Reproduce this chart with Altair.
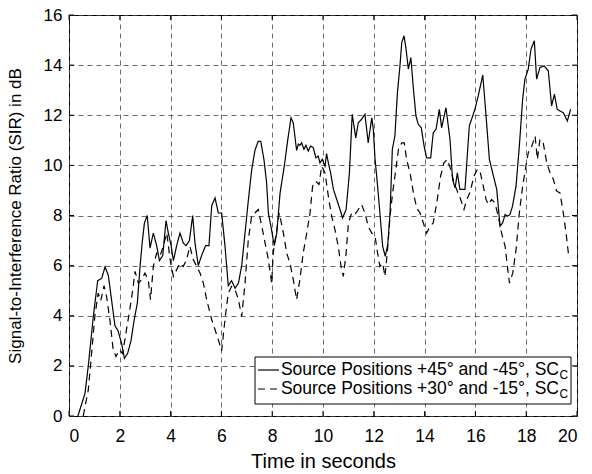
import altair as alt
import pandas as pd

# Time axis (seconds) and SIR (dB) for the two source configurations
t_45 = [0.35, 0.63, 0.76, 0.96, 1.13, 1.29, 1.42, 1.55, 1.68, 1.81, 1.93, 2.07, 2.18, 2.31,
        2.44, 2.56, 2.69, 2.80, 2.89, 2.97, 3.08, 3.19, 3.32, 3.45, 3.56, 3.69, 3.82, 3.91,
        4.02, 4.11, 4.24, 4.37, 4.50, 4.61, 4.74, 4.87, 4.96, 5.09, 5.22, 5.38, 5.51, 5.62,
        5.75, 5.88, 6.01, 6.14, 6.27, 6.40, 6.54, 6.67, 6.80, 6.93, 7.06, 7.19, 7.32, 7.45,
        7.55, 7.68, 7.78, 7.85, 7.98, 8.08, 8.18, 8.31, 8.48, 8.61, 8.74, 8.83, 8.96, 9.03,
        9.09, 9.16, 9.25, 9.33, 9.42, 9.51, 9.62, 9.72, 9.81, 9.88, 9.97, 10.08, 10.14, 10.21,
        10.30, 10.41, 10.54, 10.67, 10.77, 10.91, 11.04, 11.15, 11.29, 11.39, 11.52, 11.65,
        11.78, 11.92, 11.98, 12.05, 12.15, 12.24, 12.35, 12.45, 12.55, 12.64, 12.73, 12.83,
        12.93, 13.03, 13.10, 13.19, 13.27, 13.36, 13.46, 13.56, 13.66, 13.75, 13.87, 13.98,
        14.08, 14.24, 14.34, 14.45, 14.58, 14.67, 14.84, 15.00, 15.10, 15.20, 15.29, 15.39,
        15.50, 15.59, 15.76, 15.85, 15.98, 16.11, 16.29, 16.42, 16.55, 16.68, 16.84, 16.97,
        17.07, 17.17, 17.26, 17.36, 17.46, 17.60, 17.73, 17.86, 17.95, 18.08, 18.19, 18.32,
        18.41, 18.54, 18.70, 18.87, 19.00, 19.11, 19.22, 19.33, 19.46, 19.62, 19.75]
sir_45 = [0.0, 0.9, 2.0, 4.0, 5.4, 5.5, 5.95, 5.6, 4.6, 3.6, 3.4, 2.9, 2.3, 2.5,
          3.0, 3.8, 4.5, 6.0, 7.0, 7.7, 8.0, 6.7, 7.3, 6.8, 6.2, 6.4, 7.8, 7.3,
          6.8, 6.2, 6.8, 7.3, 6.9, 6.8, 7.0, 8.0, 6.9, 6.0, 6.4, 6.8, 6.8, 8.4,
          8.7, 8.1, 8.1, 6.8, 5.2, 5.4, 5.1, 5.3, 6.0, 7.3, 8.6, 9.8, 10.6, 10.96,
          10.96, 10.2, 9.3, 8.1, 7.4, 6.8, 7.3, 8.9, 10.0, 11.0, 11.9, 11.7, 10.6, 10.85,
          10.8, 10.9, 10.64, 10.8, 10.57, 10.77, 10.7, 10.3, 10.37, 10.1, 10.24, 9.97, 10.47, 10.1,
          9.7, 9.04, 8.64, 8.24, 7.9, 8.24, 9.7, 12.04, 11.1, 11.7, 11.84, 12.04,
          10.9, 11.9, 11.44, 10.24, 9.17, 8.1, 6.77, 6.37, 6.84, 8.1, 10.64, 11.17,
          12.9, 13.97, 14.9, 15.17, 14.64, 13.84, 14.3, 13.04, 11.97, 11.64, 11.5, 10.77,
          10.3, 10.3, 11.3, 11.44, 12.24, 11.5, 12.3, 11.04, 9.44, 9.1, 9.7, 9.04,
          9.04, 9.04, 11.57, 11.84, 12.24, 12.77, 13.6, 11.97, 10.24, 9.7, 9.04, 7.57,
          7.7, 8.04, 7.97, 8.04, 8.37, 9.17, 10.77, 12.64, 13.44, 13.84, 14.64, 14.97,
          13.44, 13.9, 13.97, 13.77, 12.37, 12.84, 12.24, 12.17, 12.1, 11.77, 12.24]

t_30 = [0.56, 0.76, 0.89, 1.02, 1.15, 1.25, 1.38, 1.48, 1.61, 1.74, 1.85, 1.98, 2.11, 2.24,
        2.37, 2.51, 2.60, 2.73, 2.86, 2.99, 3.12, 3.21, 3.32, 3.45, 3.58, 3.71, 3.85, 3.98,
        4.11, 4.24, 4.37, 4.50, 4.63, 4.76, 4.89, 5.03, 5.16, 5.29, 5.42, 5.62, 5.75, 5.88,
        6.01, 6.14, 6.27, 6.40, 6.54, 6.67, 6.80, 6.93, 7.06, 7.19, 7.32, 7.45, 7.59, 7.72,
        7.85, 7.98, 8.04, 8.28, 8.44, 8.57, 8.70, 8.83, 8.96, 9.09, 9.22, 9.36, 9.49, 9.59,
        9.72, 9.84, 9.95, 10.08, 10.21, 10.34, 10.47, 10.60, 10.71, 10.80, 10.91, 11.00, 11.13,
        11.26, 11.39, 11.52, 11.65, 11.78, 11.92, 12.05, 12.15, 12.24, 12.35, 12.44, 12.53,
        12.64, 12.74, 12.85, 12.97, 13.10, 13.20, 13.29, 13.43, 13.56, 13.69, 13.82, 13.95,
        14.08, 14.21, 14.34, 14.50, 14.63, 14.76, 14.89, 15.03, 15.16, 15.29, 15.42, 15.55,
        15.66, 15.79, 15.94, 16.08, 16.18, 16.31, 16.42, 16.51, 16.64, 16.77, 16.90, 17.03,
        17.17, 17.26, 17.34, 17.47, 17.60, 17.73, 17.86, 17.99, 18.08, 18.22, 18.35, 18.44,
        18.54, 18.67, 18.81, 18.94, 19.07, 19.20, 19.33, 19.46, 19.57, 19.66, 19.75]
sir_30 = [0.0, 1.04, 2.5, 4.0, 4.9, 4.6, 5.2, 4.76, 3.84, 2.64, 2.37, 2.64, 2.5, 3.3,
          4.1, 5.04, 5.77, 5.3, 5.44, 5.7, 5.44, 4.64, 5.97, 6.5, 6.37, 6.77, 7.3, 6.24,
          5.57, 5.84, 6.1, 5.97, 6.24, 6.77, 6.24, 5.97, 5.7, 5.3, 4.64, 3.84, 3.44, 3.04,
          2.6, 3.84, 4.9, 5.17, 5.04, 4.64, 3.97, 5.3, 7.04, 7.97, 8.1, 8.24, 7.57, 6.9,
          6.24, 5.3, 6.5, 8.1, 7.3, 6.5, 6.1, 5.44, 4.64, 5.44, 6.5, 7.3, 8.1, 9.17,
          9.37, 9.24, 9.97, 9.7, 8.77, 7.97, 7.44, 6.77, 5.97, 5.57, 6.5, 7.7, 8.1,
          8.04, 8.24, 8.44, 8.1, 7.57, 7.3, 7.17, 6.5, 5.97, 6.1, 5.57, 6.5,
          7.97, 8.9, 9.7, 10.64, 10.9, 10.9, 10.24, 9.7, 8.9, 8.3, 8.1, 7.7,
          7.3, 7.57, 7.7, 8.64, 9.57, 10.1, 10.24, 9.84, 9.3, 8.97, 8.64, 8.24,
          8.64, 8.93, 9.57, 9.84, 9.77, 9.17, 8.64, 8.44, 8.64, 8.5, 7.97, 7.3,
          6.77, 5.97, 5.3, 5.7, 6.64, 8.1, 9.17, 9.97, 10.5, 10.77, 11.17, 10.24,
          11.04, 10.9, 10.1, 9.7, 9.44, 8.97, 8.9, 8.1, 7.3, 6.5, 6.3]

series_names = ["Source Positions +45\u00b0 and -45\u00b0, SC",
                "Source Positions +30\u00b0 and -15\u00b0, SC"]
subscript = "C"
x_ticks = [0, 2, 4, 6, 8, 10, 12, 14, 16, 18, 20]
y_ticks = [0, 2, 4, 6, 8, 10, 12, 14, 16]

W, H = 508, 401
FONT = "Liberation Sans"

df = pd.concat([
    pd.DataFrame({"t": t_45, "sir": sir_45, "series": series_names[0]}),
    pd.DataFrame({"t": t_30, "sir": sir_30, "series": series_names[1]}),
])

x_scale = alt.Scale(domain=[0, 20], nice=False, zero=False)
y_scale = alt.Scale(domain=[0, 16], nice=False)

lines = alt.Chart(df).mark_line(color="black", strokeWidth=1.2, clip=True).encode(
    x=alt.X("t:Q", scale=x_scale,
            axis=alt.Axis(values=x_ticks, format="d", title="Time in seconds",
                          grid=True, gridColor="#444", gridDash=[5, 4], gridWidth=0.8,
                          domain=False, ticks=False, labelPadding=11, titlePadding=7,
                          labelFontSize=17.5, titleFontSize=20)),
    y=alt.Y("sir:Q", scale=y_scale,
            axis=alt.Axis(values=y_ticks, format="d",
                          title="Signal-to-Interference Ratio (SIR) in dB",
                          grid=True, gridColor="#444", gridDash=[5, 4], gridWidth=0.8,
                          domain=False, ticks=False, labelPadding=7, titlePadding=19,
                          labelFontSize=17, titleFontSize=17)),
    strokeDash=alt.StrokeDash("series:N",
                              scale=alt.Scale(domain=series_names, range=[[1, 0], [7, 5]]),
                              legend=None),
)

# inward tick marks on all four sides of the box
xt = pd.DataFrame({"v": x_ticks})
yt = pd.DataFrame({"v": y_ticks})
tick_bottom = alt.Chart(xt).mark_rule(color="black", strokeWidth=1).encode(
    x=alt.X("v:Q", scale=x_scale), y=alt.value(H), y2=alt.value(H - 5))
tick_top = alt.Chart(xt).mark_rule(color="black", strokeWidth=1).encode(
    x=alt.X("v:Q", scale=x_scale), y=alt.value(0), y2=alt.value(5))
tick_left = alt.Chart(yt).mark_rule(color="black", strokeWidth=1).encode(
    y=alt.Y("v:Q", scale=y_scale), x=alt.value(0), x2=alt.value(5))
tick_right = alt.Chart(yt).mark_rule(color="black", strokeWidth=1).encode(
    y=alt.Y("v:Q", scale=y_scale), x=alt.value(W), x2=alt.value(W - 5))

# legend box in the lower right corner
one = pd.DataFrame({"k": [0]})
box = alt.Chart(one).mark_rect(fill="white", stroke="black", strokeWidth=1).encode(
    x=alt.value(186), x2=alt.value(502), y=alt.value(342), y2=alt.value(389))
sym_solid = alt.Chart(one).mark_rule(color="black", strokeWidth=1.2).encode(
    x=alt.value(189), x2=alt.value(210), y=alt.value(355))
sym_dash = alt.Chart(one).mark_rule(color="black", strokeWidth=1.2, strokeDash=[7, 5]).encode(
    x=alt.value(189), x2=alt.value(210), y=alt.value(374))

label_layers = []
for i, name in enumerate(series_names):
    yy = 355 + 19 * i
    lab = alt.Chart(pd.DataFrame({"label": [name]})).mark_text(
        align="right", baseline="middle", fontSize=17.5, font=FONT, color="black").encode(
        x=alt.value(490), y=alt.value(yy), text="label:N")
    sub = alt.Chart(pd.DataFrame({"label": [subscript]})).mark_text(
        align="left", baseline="middle", fontSize=12, font=FONT, color="black").encode(
        x=alt.value(490.5), y=alt.value(yy + 5), text="label:N")
    label_layers += [lab, sub]

chart = alt.layer(
    lines, tick_bottom, tick_top, tick_left, tick_right, box, sym_solid, sym_dash, *label_layers
).properties(
    width=W, height=H,
    padding={"left": 69, "top": 15, "right": 15, "bottom": 58},
    autosize=alt.AutoSizeParams(type="none"),
).configure_view(
    stroke="black", strokeWidth=1
).configure_axis(
    labelFont=FONT, titleFont=FONT, labelColor="black", titleColor="black",
    titleFontWeight="normal"
)

chart.save("out.html", embed_options={"renderer": "svg", "actions": False})
